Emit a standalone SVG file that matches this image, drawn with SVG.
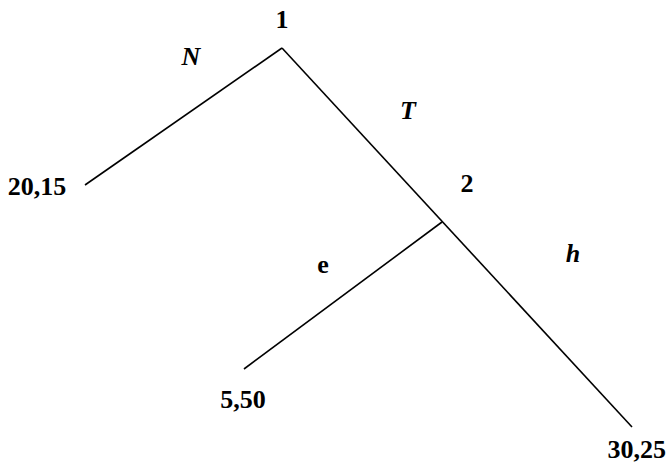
<svg xmlns="http://www.w3.org/2000/svg" width="671" height="465" viewBox="0 0 671 465">
<style>
.edge{stroke:#000;stroke-width:1.6;fill:none;stroke-linecap:butt}
.t{font-family:'Liberation Serif','Times New Roman',Times,serif;font-weight:700;font-size:26px;fill:#000;text-anchor:middle}
.i{font-style:italic}
</style>
<rect width="671" height="465" fill="#fff"/>
<g id="connectors">
<line class="edge" x1="282" y1="48" x2="85" y2="185"/>
<line class="edge" x1="282" y1="48" x2="632" y2="427"/>
<line class="edge" x1="442" y1="222" x2="244" y2="369"/>
</g>
<g id="node1"><text class="t" x="282" y="28">1</text></g>
<g id="node2"><text class="t" x="467" y="192">2</text></g>
<g id="leaf-20-15"><text class="t" x="37" y="195">20,15</text></g>
<g id="leaf-5-50"><text class="t" x="243" y="408">5,50</text></g>
<g id="leaf-30-25"><text class="t" x="666" y="458" style="text-anchor:end">30,25</text></g>
<g id="labels">
<text class="t i" x="191" y="65">N</text>
<text class="t i" x="408" y="119">T</text>
<text class="t" x="323" y="273">e</text>
<text class="t i" x="573" y="262">h</text>
</g>
</svg>
